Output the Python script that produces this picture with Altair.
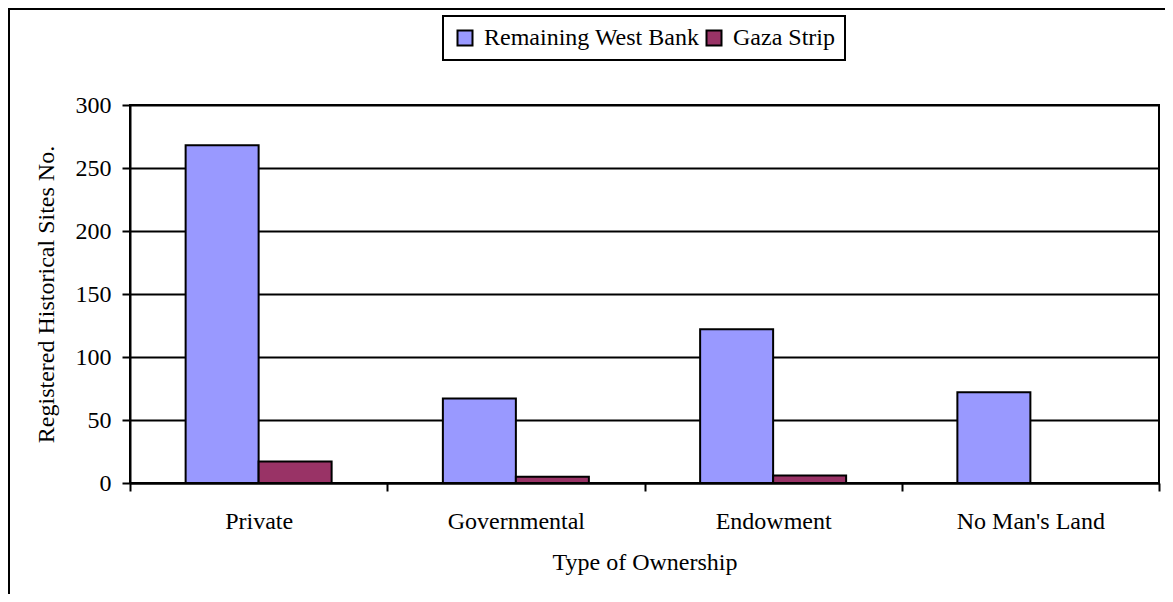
import altair as alt
import pandas as pd

categories = ["Private", "Governmental", "Endowment", "No Man's Land"]
series_names = ["Remaining West Bank", "Gaza Strip"]
west_bank = [268, 67, 122, 72]
gaza = [17, 5, 6, 0]
y_ticks = [0, 50, 100, 150, 200, 250, 300]
colors = ["#9999FF", "#993366"]

rows = []
for c, v in zip(categories, west_bank):
    rows.append({"category": c, "series": series_names[0], "value": v})
for c, v in zip(categories, gaza):
    rows.append({"category": c, "series": series_names[1], "value": v})
df = pd.DataFrame(rows)

FONT = "Liberation Serif"
W, H = 1029, 378

bars = alt.Chart(df).mark_bar(stroke="black", strokeWidth=2).encode(
    x=alt.X(
        "category:N",
        sort=categories,
        scale=alt.Scale(paddingInner=0, paddingOuter=0),
        axis=alt.Axis(
            title="Type of Ownership",
            titleFont=FONT, titleFontSize=24, titleFontWeight="normal", titleColor="black",
            titleY=86, titleBaseline="alphabetic",
            labelFont=FONT, labelFontSize=24, labelColor="black", labelAngle=0,
            labelBaseline="alphabetic", labelPadding=37, labelLimit=400,
            tickBand="extent", tickSize=8, tickWidth=2, tickColor="black",
            domainColor="black", domainWidth=2, grid=False,
        ),
    ),
    xOffset=alt.XOffset(
        "series:N", sort=series_names,
        scale=alt.Scale(paddingInner=0, paddingOuter=0.762),
    ),
    y=alt.Y(
        "value:Q",
        scale=alt.Scale(domain=[0, 300], nice=False),
        axis=alt.Axis(
            values=y_ticks,
            title="Registered Historical Sites No.",
            titleFont=FONT, titleFontSize=24, titleFontWeight="normal", titleColor="black",
            titleAngle=270, titleX=-77, titleY=189, titleBaseline="alphabetic", titleAlign="center",
            titleLimit=600,
            labelFont=FONT, labelFontSize=24, labelColor="black", labelPadding=11,
            tickSize=8, tickWidth=2, tickColor="black",
            domainColor="black", domainWidth=2,
            grid=True, gridColor="black", gridWidth=2, gridOpacity=1,
        ),
    ),
    color=alt.Color(
        "series:N",
        sort=series_names,
        scale=alt.Scale(domain=series_names, range=colors),
        legend=alt.Legend(
            title=None, orient="none", legendX=313, legendY=-89,
            direction="horizontal", symbolType="square", symbolSize=225,
            symbolStrokeColor="black", symbolStrokeWidth=2, symbolOpacity=1,
            labelFont=FONT, labelFontSize=24, labelColor="black", labelLimit=400,
            labelOffset=7, columnPadding=2, padding=10,
            strokeColor="black", fillColor="white",
        ),
    ),
)

border = alt.Chart(pd.DataFrame({"b": [0]})).mark_rect(
    filled=False, stroke="black", strokeWidth=2
).encode(
    x=alt.value(-121), x2=alt.value(W + 40), y=alt.value(-96), y2=alt.value(H + 140)
)

chart = alt.layer(border, bars).properties(
    width=W, height=H,
    autosize=alt.AutoSizeParams(type="none"),
    padding={"left": 122, "top": 97, "right": 6, "bottom": 111},
    background="white",
).configure_view(stroke="black", strokeWidth=2).configure_legend(strokeWidth=2)

chart.save("out.html", embed_options={"renderer": "svg", "actions": False})
